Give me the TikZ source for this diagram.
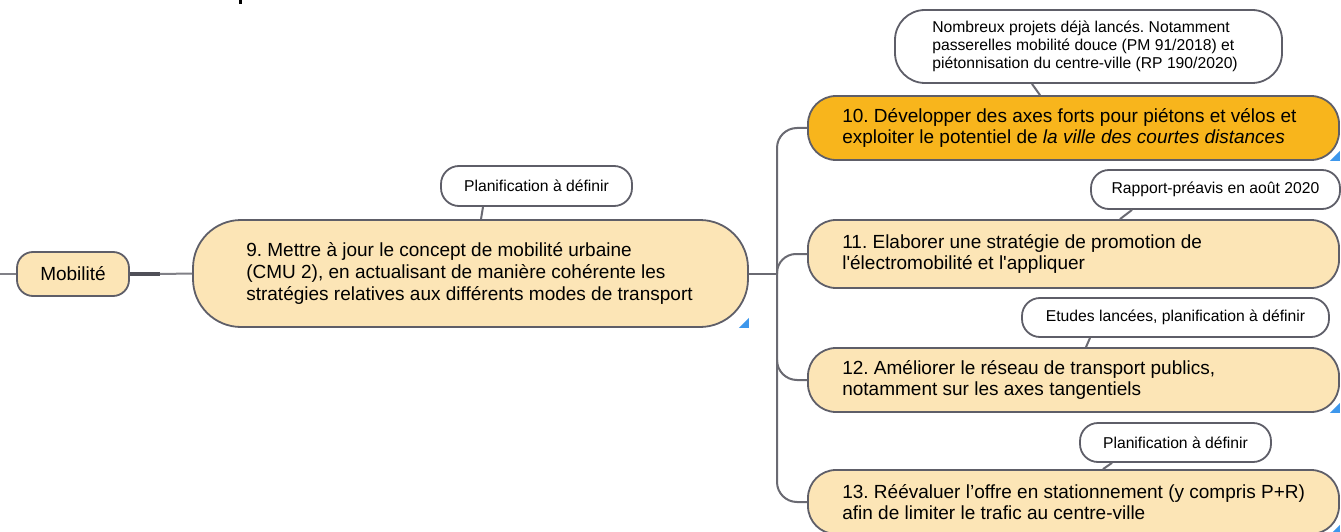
\documentclass[tikz,border=0pt]{standalone}
\usepackage{fontspec}
\setmainfont{Liberation Sans}
\newfontfamily\plainq{Liberation Sans}
\definecolor{tan}{HTML}{FCE5B6}
\definecolor{amber}{HTML}{F8B51C}
\definecolor{edge}{HTML}{5E5E68}
\definecolor{wirec}{HTML}{6A6A72}
\definecolor{flagc}{HTML}{3D97EC}
\newcommand{\topicfont}{\fontsize{19}{21.8}\selectfont}
\newcommand{\notefont}{\fontsize{15.7}{18}\selectfont}
\newcommand{\sq}{{\plainq '}}
\tikzset{
  topic/.style={draw=edge, line width=1.8pt, fill=tan, inner sep=0pt, rounded corners=#1},
  topic/.default=28pt,
  topictext/.style={anchor=west, align=left, inner sep=0pt, font=\topicfont},
  note/.style={draw=edge, line width=1.8pt, fill=white, inner sep=0pt, rounded corners=#1, font=\notefont, align=center},
  note/.default=18pt,
  wire/.style={draw=wirec, line width=2pt},
  flag/.style={fill=flagc},
}
\frenchspacing
\begin{document}
\frenchspacing
\begin{tikzpicture}[x=1pt, y=-1pt]
\useasboundingbox[fill=white] (0,0) rectangle (1341,532);

% fragment of a heading above the frame
\fill[black] (239,0) rectangle (242,4);

% root and first level
\node[topic=16pt, minimum width=112pt, minimum height=44pt, font=\topicfont] (mob) at (73,274) {Mobilité};
\node[topic=48pt, minimum width=555pt, minimum height=107pt] (n9) at (470.5,273.5) {};
\node[topictext] (t9) at ([xshift=54pt]n9.west)
  {9. Mettre à jour le concept de mobilité urbaine\\(CMU 2), en actualisant de manière cohérente les\\stratégies relatives aux différents modes de transport};

% second level
\node[topic, fill=amber, minimum width=531pt, minimum height=64pt] (n10) at (1073.5,128) {};
\node[topictext] (t10) at ([xshift=35pt]n10.west)
  {10. Développer des axes forts pour piétons et vélos et\\exploiter le potentiel de \textit{la ville des courtes distances}};
\node[topic, minimum width=531pt, minimum height=68pt] (n11) at (1073.5,254) {};
\node[topictext] (t11) at ([xshift=35pt]n11.west)
  {11. Elaborer une stratégie de promotion de\\l\sq électromobilité et l\sq appliquer};
\node[topic, minimum width=531pt, minimum height=64pt] (n12) at (1073.5,380) {};
\node[topictext] (t12) at ([xshift=35pt]n12.west)
  {12. Améliorer le réseau de transport publics,\\notamment sur les axes tangentiels};
\node[topic, minimum width=531pt, minimum height=64pt] (n13) at (1073.5,502) {};
\node[topictext] (t13) at ([xshift=35pt]n13.west)
  {13. Réévaluer l’offre en stationnement (y compris P+R)\\afin de limiter le trafic au centre-ville};

% callout notes
\node[note=30pt, minimum width=387pt, minimum height=73pt] (pTop) at (1088.5,46.5) {};
\node[anchor=west, align=left, inner sep=0pt, font=\notefont] (tTop) at ([xshift=38pt]pTop.west)
  {Nombreux projets déjà lancés. Notamment\\passerelles mobilité douce (PM 91/2018) et\\piétonnisation du centre-ville (RP 190/2020)};
\node[note, minimum width=191pt, minimum height=40pt] (p9) at (536.5,186) {Planification à définir};
\node[note, minimum width=249pt, minimum height=39pt] (p11) at (1215.5,189.5) {Rapport-préavis en août 2020};
\node[note, minimum width=307pt, minimum height=39pt] (p12) at (1175.5,317.5) {Etudes lancées, planification à définir};
\node[note, minimum width=191pt, minimum height=39pt] (p13) at (1175.5,442.5) {Planification à définir};

% connectors
\coordinate (stub) at (0,274);
\coordinate (mk) at (160,274);
\coordinate (jn) at (777,273.5);
\coordinate (j12) at (777,360);
\draw[wire, draw=wirec!85!white] (stub) -- (mob.west);
\draw[draw=edge!85!black, line width=3.5pt] (mob.east) -- (mk);
\draw[wire, draw=wirec!85!white] (mk) -- (n9.west);
\draw[wire] (n9.east) -- (jn);
\draw[wire, rounded corners=20pt] (n10.west) -| (jn) |- (n13.west);
\draw[wire, rounded corners=19pt] (jn) |- (n11.west);
\draw[wire, rounded corners=20pt] (j12) |- (n12.west);

\draw[wire] ([xshift=-56.5pt]pTop.south) -- ([xshift=-33.5pt]n10.north);
\draw[wire] ([xshift=-53.5pt]p9.south) -- ([xshift=10.5pt]n9.north);
\draw[wire] ([xshift=-83.5pt]p11.south) -- ([xshift=46.5pt]n11.north);
\draw[wire] ([xshift=-85.5pt]p12.south) -- ([xshift=12.5pt]n12.north);
\draw[wire] ([xshift=-63.5pt]p13.south) -- ([xshift=29.5pt]n13.north);

% corner markers
\fill[flag] (n9.south east) -- ++(0,-10) -- ++(-10,10) -- cycle;
\fill[flag] (n10.south east) -- ++(0,-10) -- ++(-10,10) -- cycle;
\fill[flag] (n12.south east) -- ++(0,-10) -- ++(-10,10) -- cycle;
\fill[flag] (n13.south east) -- ++(0,-10) -- ++(-10,10) -- cycle;
\end{tikzpicture}
\end{document}
